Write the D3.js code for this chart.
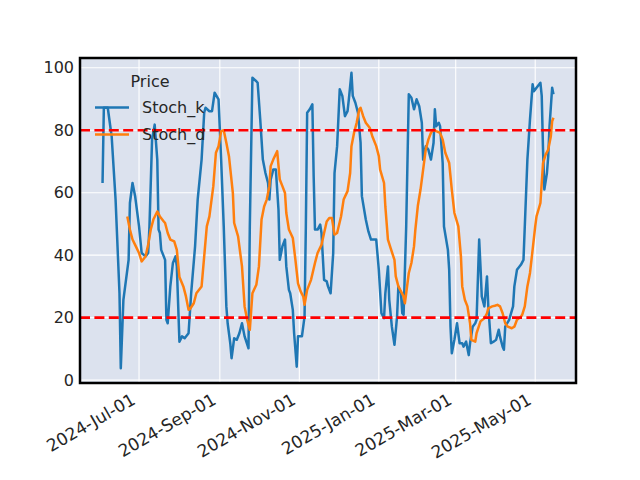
<!DOCTYPE html>
<html>
<head>
<meta charset="utf-8">
<script src="https://cdn.jsdelivr.net/npm/d3@7"></script>
<style>
  body { margin: 0; background: #fff; }
  text { font-family: "DejaVu Sans", sans-serif; fill: #262626; }
</style>
</head>
<body>
<svg id="chart" width="640" height="480"></svg>
<script>
// Stoch_k (blue)
var kDates = ["2024-06-03","2024-06-04","2024-06-07","2024-06-10","2024-06-13","2024-06-16","2024-06-17","2024-06-19","2024-06-23","2024-06-24",
  "2024-06-26","2024-06-28","2024-07-01","2024-07-03","2024-07-06","2024-07-08","2024-07-09","2024-07-11","2024-07-13","2024-07-15",
  "2024-07-16","2024-07-17","2024-07-18","2024-07-21","2024-07-22","2024-07-23","2024-07-25","2024-07-27","2024-07-29","2024-07-30",
  "2024-08-01","2024-08-03","2024-08-05","2024-08-08","2024-08-10","2024-08-13","2024-08-15","2024-08-18","2024-08-20","2024-08-21",
  "2024-08-24","2024-08-26","2024-08-28","2024-08-31","2024-09-02","2024-09-04","2024-09-06","2024-09-07","2024-09-09","2024-09-10",
  "2024-09-12","2024-09-14","2024-09-16","2024-09-18","2024-09-20","2024-09-23","2024-09-24","2024-09-26","2024-09-29","2024-09-30",
  "2024-10-02","2024-10-04","2024-10-06","2024-10-08","2024-10-09","2024-10-10","2024-10-12","2024-10-14","2024-10-16","2024-10-17",
  "2024-10-19","2024-10-21","2024-10-22","2024-10-24","2024-10-25","2024-10-27","2024-10-28","2024-10-30","2024-10-31","2024-11-02",
  "2024-11-03","2024-11-05","2024-11-06","2024-11-07","2024-11-09","2024-11-11","2024-11-12","2024-11-13","2024-11-15","2024-11-17",
  "2024-11-18","2024-11-20","2024-11-22","2024-11-23","2024-11-25","2024-11-27","2024-11-28","2024-11-30","2024-12-02","2024-12-04",
  "2024-12-06","2024-12-08","2024-12-09","2024-12-11","2024-12-12","2024-12-14","2024-12-16","2024-12-18","2024-12-19","2024-12-22",
  "2024-12-24","2024-12-26","2024-12-30","2025-01-01","2025-01-03","2025-01-05","2025-01-06","2025-01-08","2025-01-09","2025-01-11",
  "2025-01-13","2025-01-15","2025-01-16","2025-01-18","2025-01-19","2025-01-20","2025-01-22","2025-01-24","2025-01-26","2025-01-28",
  "2025-01-30","2025-02-01","2025-02-03","2025-02-04","2025-02-06","2025-02-08","2025-02-10","2025-02-12","2025-02-13","2025-02-14",
  "2025-02-16","2025-02-17","2025-02-19","2025-02-20","2025-02-23","2025-02-24","2025-02-25","2025-02-26","2025-02-28","2025-03-02",
  "2025-03-04","2025-03-06","2025-03-07","2025-03-09","2025-03-11","2025-03-12","2025-03-14","2025-03-16","2025-03-17","2025-03-19",
  "2025-03-20","2025-03-21","2025-03-23","2025-03-25","2025-03-26","2025-03-28","2025-03-30","2025-04-01","2025-04-03","2025-04-04",
  "2025-04-06","2025-04-07","2025-04-08","2025-04-11","2025-04-14","2025-04-15","2025-04-17","2025-04-20","2025-04-22","2025-04-23",
  "2025-04-25","2025-04-26","2025-04-27","2025-04-29","2025-04-30","2025-05-02","2025-05-05","2025-05-06","2025-05-07","2025-05-08",
  "2025-05-10","2025-05-11","2025-05-12","2025-05-14","2025-05-15"];
var kValues = [63.1,87.2,87.2,78,57.8,27.8,3.8,25.7,38.5,56.7,
  63.1,58.9,49.2,40.7,39.6,40.7,49.2,77,81.8,70.6,
  48.2,47.1,41.7,38.5,19.3,18.2,30,37.5,39.6,36.4,
  12.3,14,13.4,15,27.8,42.8,57.8,70.6,85.6,87.2,
  86.1,86.1,92,89.9,70.6,49.2,23.6,18.2,11.8,7,
  13.4,12.9,15,18.2,14,10.2,49.2,96.8,95.7,95.2,
  83.5,70.6,66.3,63.1,57.8,64.2,67.4,67.4,54.6,38.5,
  42.8,45,36.4,28.9,27.8,22.5,15,4.3,14,14,
  14,20.3,49.2,85.6,86.7,88.3,65.3,48.2,48.2,49.8,
  47.1,32.1,31.6,30,27.8,40.7,66.3,74.9,93.1,91,
  84.5,86.1,89.9,98.4,91,88.8,85.6,76,58.9,51.4,
  47.6,45,45,35.3,21.4,19.8,27.8,36.4,25.7,17.1,
  11.3,20.3,30,27.8,21.4,20.9,49.2,91.5,90.4,86.7,
  89.9,87.7,82.4,70.6,74.9,73.8,70.6,76,86.7,81.3,
  82.4,81.3,69.5,49.2,41.7,35.3,17.1,8.6,12.9,18.2,
  11.8,11.8,10.7,12.3,8,11.8,17.1,18.2,19.3,45,
  36.4,26.8,23.6,33.2,23.6,11.8,12.3,12.9,16.1,13.9,
  10.7,9.7,17.1,19.3,23.6,30,35.3,36.9,38.5,49.2,
  70.6,77,83.5,94.7,92.5,93.6,95.2,91,73.8,61,
  66.3,71.7,81.3,93.6,91.5];

// Stoch_d (orange)
var dDates = ["2024-06-22","2024-06-24","2024-06-26","2024-06-28","2024-07-01","2024-07-03","2024-07-06","2024-07-08","2024-07-10","2024-07-12",
  "2024-07-15","2024-07-17","2024-07-20","2024-07-21","2024-07-23","2024-07-25","2024-07-28","2024-07-30","2024-08-01","2024-08-04",
  "2024-08-06","2024-08-08","2024-08-09","2024-08-12","2024-08-14","2024-08-18","2024-08-20","2024-08-22","2024-08-24","2024-08-27",
  "2024-08-29","2024-08-31","2024-09-02","2024-09-04","2024-09-06","2024-09-08","2024-09-11","2024-09-12","2024-09-15","2024-09-18",
  "2024-09-20","2024-09-22","2024-09-24","2024-09-26","2024-09-29","2024-10-01","2024-10-03","2024-10-05","2024-10-07","2024-10-09",
  "2024-10-10","2024-10-12","2024-10-15","2024-10-17","2024-10-19","2024-10-21","2024-10-22","2024-10-24","2024-10-27","2024-10-29",
  "2024-10-31","2024-11-02","2024-11-04","2024-11-05","2024-11-07","2024-11-10","2024-11-13","2024-11-15","2024-11-18","2024-11-20",
  "2024-11-22","2024-11-24","2024-11-26","2024-11-28","2024-11-30","2024-12-03","2024-12-05","2024-12-08","2024-12-10","2024-12-11",
  "2024-12-13","2024-12-15","2024-12-17","2024-12-18","2024-12-20","2024-12-22","2024-12-25","2024-12-27","2024-12-30","2025-01-01",
  "2025-01-02","2025-01-05","2025-01-06","2025-01-08","2025-01-10","2025-01-13","2025-01-14","2025-01-16","2025-01-18","2025-01-20",
  "2025-01-21","2025-01-22","2025-01-24","2025-01-26","2025-01-28","2025-01-29","2025-01-31","2025-02-02","2025-02-04","2025-02-06",
  "2025-02-08","2025-02-10","2025-02-12","2025-02-14","2025-02-17","2025-02-19","2025-02-21","2025-02-24","2025-02-26","2025-02-28",
  "2025-03-03","2025-03-05","2025-03-06","2025-03-08","2025-03-10","2025-03-12","2025-03-13","2025-03-16","2025-03-17","2025-03-20",
  "2025-03-23","2025-03-25","2025-03-26","2025-03-29","2025-03-31","2025-04-02","2025-04-04","2025-04-06","2025-04-08","2025-04-10",
  "2025-04-13","2025-04-15","2025-04-17","2025-04-20","2025-04-21","2025-04-23","2025-04-25","2025-04-27","2025-04-29","2025-05-01",
  "2025-05-02","2025-05-05","2025-05-06","2025-05-07","2025-05-09","2025-05-11","2025-05-13","2025-05-14","2025-05-15"];
var dValues = [52.4,48.2,45,43.3,40.7,38,39.6,43.3,48.2,51.4,
  54,52.4,50.8,50.3,47.1,45,44.4,41.7,33,30,
  26.8,22.5,22.7,24.6,27.8,30,39.6,49.2,52.4,62.1,
  72.8,74.9,79.7,80,76,71.7,59.9,50.3,46,36.4,
  23.6,19.3,16.1,27.8,30.5,36.4,51.4,55.6,57.8,62.1,
  68.5,70.6,73.3,64.2,62.1,59.9,53.5,48.2,45.5,38.5,
  31,28.4,26.8,24.1,28.9,32.1,37.5,40.7,43.3,47.1,
  50.8,51.9,51.9,46.6,47.1,52.4,57.8,60.5,66.3,74.9,
  79.2,82.4,86.7,87.2,84.5,82.4,80.8,78.1,74.9,71.7,
  67.4,63.1,55.6,45,42.3,38.5,33.2,30,28.4,26.8,
  24.6,27.8,34.3,37.5,42.8,48,56,61,67.4,73.8,
  77,79.2,80.2,79.7,79.2,77,72.8,69.5,61,53.5,
  49.2,39.6,30,25.7,23.6,18.2,12.9,12.3,15,18.8,
  19.8,21.4,23,23.6,23.8,24.1,23.6,21.4,18.2,17.1,
  16.6,17.1,19.3,20.3,20.9,23.6,30,34.3,41.7,49.2,
  52.4,56.7,63.1,69.5,72.2,73.8,78.1,82.9,84];

var seriesNames = ["Stoch_k", "Stoch_d"];
var seriesColors = ["#1f77b4", "#ff7f0e"];
var levels = [80, 20];
var yTicks = [0, 20, 40, 60, 80, 100];

var margin = {top: 58, right: 64, bottom: 97, left: 80};
var width = 640 - margin.left - margin.right;
var height = 480 - margin.top - margin.bottom;

var parse = d3.timeParse("%Y-%m-%d");
var kData = kDates.map(function(d, i) { return {date: parse(d), value: kValues[i]}; });
var dData = dDates.map(function(d, i) { return {date: parse(d), value: dValues[i]}; });

// matplotlib-style 5% margins around the data
var xExt = d3.extent(kData, function(d) { return +d.date; });
var xPad = (xExt[1] - xExt[0]) * 0.05;
var allVals = kValues.concat(dValues);
var yExt = d3.extent(allVals);
var yPad = (yExt[1] - yExt[0]) * 0.05;

var x = d3.scaleTime()
  .domain([new Date(xExt[0] - xPad), new Date(xExt[1] + xPad)])
  .range([0, width]);
var y = d3.scaleLinear()
  .domain([yExt[0] - yPad, yExt[1] + yPad])
  .range([height, 0]);

var svg = d3.select("#chart");
var g = svg.append("g").attr("transform", "translate(" + margin.left + "," + margin.top + ")");

g.append("rect")
  .attr("width", width)
  .attr("height", height)
  .style("fill", "#dce2ee");

var xTicks = x.ticks(d3.timeMonth.every(2));

// grid
g.selectAll(".xgrid").data(xTicks).enter().append("line")
  .attr("x1", function(d) { return x(d); })
  .attr("x2", function(d) { return x(d); })
  .attr("y1", 0).attr("y2", height)
  .style("stroke", "#fff").style("stroke-width", 1.1);
g.selectAll(".ygrid").data(yTicks).enter().append("line")
  .attr("y1", function(d) { return y(d); })
  .attr("y2", function(d) { return y(d); })
  .attr("x1", 0).attr("x2", width)
  .style("stroke", "#fff").style("stroke-width", 1.1);

var line = d3.line()
  .x(function(d) { return x(d.date); })
  .y(function(d) { return y(d.value); });

[kData, dData].forEach(function(data, i) {
  g.append("path")
    .datum(data)
    .attr("d", line)
    .style("fill", "none")
    .style("stroke", seriesColors[i])
    .style("stroke-width", 2.5)
    .style("stroke-linejoin", "round");
});

g.selectAll(".level").data(levels).enter().append("line")
  .attr("x1", 0).attr("x2", width)
  .attr("y1", function(d) { return y(d); })
  .attr("y2", function(d) { return y(d); })
  .style("stroke", "#ff0000")
  .style("stroke-width", 2.6)
  .style("stroke-dasharray", "10,4.4");

// axes (labels only, no tick marks)
var xAxis = g.append("g").attr("transform", "translate(0," + height + ")")
  .call(d3.axisBottom(x).tickValues(xTicks).tickSize(0).tickFormat(d3.timeFormat("%Y-%b-%d")));
xAxis.select(".domain").remove();
xAxis.selectAll("text")
  .style("font-size", "17px")
  .style("font-family", "DejaVu Sans")
  .attr("fill", "#262626")
  .attr("text-anchor", "end")
  .attr("dy", null)
  .attr("y", 0)
  .attr("transform", "translate(-3,20) rotate(-30)");

var yAxis = g.append("g")
  .call(d3.axisLeft(y).tickValues(yTicks).tickSize(0).tickPadding(6));
yAxis.select(".domain").remove();
yAxis.selectAll("text")
  .style("font-size", "16px")
  .style("font-family", "DejaVu Sans")
  .attr("fill", "#262626");

g.append("rect")
  .attr("width", width)
  .attr("height", height)
  .style("fill", "none")
  .style("stroke", "#000")
  .style("stroke-width", 2.5);

// legend
var legend = svg.append("g").attr("transform", "translate(95,0)");
legend.append("text")
  .attr("x", 55).attr("y", 87)
  .attr("text-anchor", "middle")
  .style("font-size", "16px")
  .text("Price");
seriesNames.forEach(function(name, i) {
  var ly = 107.5 + i * 27;
  legend.append("line")
    .attr("x1", 0).attr("x2", 34)
    .attr("y1", ly).attr("y2", ly)
    .style("stroke", seriesColors[i])
    .style("stroke-width", 2.5);
  legend.append("text")
    .attr("x", 47).attr("y", ly + 5.5)
    .style("font-size", "16px")
    .text(name);
});
</script>
</body>
</html>
